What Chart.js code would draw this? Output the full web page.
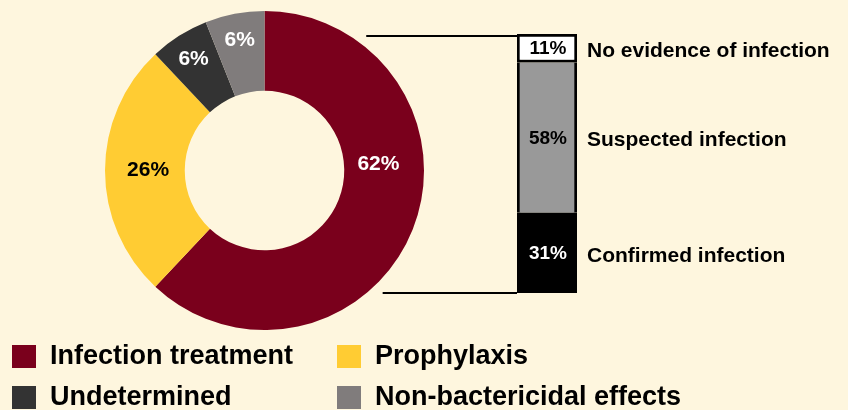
<!DOCTYPE html>
<html>
<head>
<meta charset="utf-8">
<script src="https://cdn.jsdelivr.net/npm/chart.js@4.4.0/dist/chart.umd.min.js"></script>
<style>
    html, body { margin:0; padding:0; background:#fef6de; }
    #wrap { position:relative; width:848px; height:410px; }
    #wrap canvas { position:absolute; left:0; top:0; }
</style>
</head>
<body>
<div id="wrap">
    <canvas id="donut_chart" width="848" height="410"></canvas>
    <canvas id="bar_chart" width="848" height="410"></canvas>
</div>
<script>
// antibiotic use (donut)
let use_labels = ["Infection treatment", "Prophylaxis", "Undetermined", "Non-bactericidal effects"];
let use_values = [62, 26, 6, 6];
let use_colors = ["#7a001c", "#ffcc33", "#333333", "#807c7c"];

// breakdown of infection treatment (stacked bar, bottom to top)
let infection_labels = ["Confirmed infection", "Suspected infection", "No evidence of infection"];
let infection_values = [31, 58, 11];
let infection_colors = ["#000000", "#999999", "#ffffff"];

const FONT = "'Liberation Sans', Arial, sans-serif";

// where inside each slice the % text goes (fraction of angle, fraction of ring width)
let slice_text_pos = [0.39, 0.5, 0.5, 0.5];
let slice_text_rad = [0.43, 0.46, 0.66, 0.66];
let slice_text_color = ["#fff", "#000", "#fff", "#fff"];

let donutLabels = {
    id: "donutLabels",
    afterDraw(chart) {
        let ctx = chart.ctx;
        let meta = chart.getDatasetMeta(0);
        ctx.save();
        ctx.font = "bold 21px " + FONT;
        ctx.textAlign = "center";
        ctx.textBaseline = "middle";
        meta.data.forEach(function (arc, i) {
            let a = arc.startAngle + (arc.endAngle - arc.startAngle) * slice_text_pos[i];
            let r = arc.innerRadius + (arc.outerRadius - arc.innerRadius) * slice_text_rad[i];
            ctx.fillStyle = slice_text_color[i];
            ctx.fillText(use_values[i] + "%", arc.x + Math.cos(a) * r, arc.y + Math.sin(a) * r);
        });

        // legend, 2 columns
        let colX = [12, 337];
        let rowY = [345, 386];
        ctx.textAlign = "left";
        ctx.font = "bold 27px " + FONT;
        for (let i = 0; i < use_labels.length; i++) {
            let bx = colX[i % 2];
            let by = rowY[Math.floor(i / 2)];
            ctx.fillStyle = use_colors[i];
            ctx.fillRect(bx, by, 24, 23);
            ctx.fillStyle = "#000";
            ctx.fillText(use_labels[i], bx + 38, by + 12);
        }
        ctx.restore();
    }
};

let Donut = document.getElementById("donut_chart");
let DonutChart = new Chart(Donut, {
    type: "doughnut",
    data: {
        labels: use_labels,
        datasets: [{
            data: use_values,
            backgroundColor: use_colors,
            borderWidth: 0
        }]
    },
    options: {
        responsive: false,
        animation: false,
        cutout: "50%",
        layout: { padding: { left: 105, top: 11, right: 424, bottom: 80 } },
        plugins: { legend: { display: false }, tooltip: { enabled: false } }
    },
    plugins: [donutLabels]
});

let barLabels = {
    id: "barLabels",
    afterDraw(chart) {
        let ctx = chart.ctx;
        let area = chart.chartArea;
        ctx.save();

        // connector lines from the donut to the bar
        let arc = DonutChart.getDatasetMeta(0).data[0];
        ctx.strokeStyle = "#000";
        ctx.lineWidth = 2;
        [area.top + 2, area.bottom].forEach(function (y) {
            let dy = y - arc.y;
            let dx = Math.sqrt(Math.max(arc.outerRadius * arc.outerRadius - dy * dy, 0));
            ctx.beginPath();
            ctx.moveTo(arc.x + dx + 16, y);
            ctx.lineTo(area.left, y);
            ctx.stroke();
        });

        let textColor = ["#fff", "#000", "#000"];
        ctx.textBaseline = "middle";
        chart.data.datasets.forEach(function (ds, i) {
            let bar = chart.getDatasetMeta(i).data[0];
            let mid = (bar.y + bar.base) / 2;
            ctx.font = "bold 19px " + FONT;
            ctx.textAlign = "center";
            ctx.fillStyle = textColor[i];
            ctx.fillText(infection_values[i] + "%", bar.x + 1, mid + 1);
            ctx.font = "bold 21px " + FONT;
            ctx.textAlign = "left";
            ctx.fillStyle = "#000";
            ctx.fillText(infection_labels[i], area.right + 10, mid + 3);
        });
        ctx.restore();
    }
};

let bar_borders = [3, { left: 3, right: 3, top: 0, bottom: 0 }, 3];

let Bar = document.getElementById("bar_chart");
let BarChart = new Chart(Bar, {
    type: "bar",
    data: {
        labels: ["Infection treatment"],
        datasets: infection_labels.map(function (lab, i) {
            return {
                label: lab,
                data: [infection_values[i]],
                backgroundColor: infection_colors[i],
                borderColor: "#000",
                borderWidth: bar_borders[i],
                borderSkipped: false,
                barPercentage: 1,
                categoryPercentage: 1
            };
        })
    },
    options: {
        responsive: false,
        animation: false,
        layout: { padding: { left: 517, top: 34, right: 271, bottom: 117 } },
        scales: {
            x: { stacked: true, display: false },
            y: { stacked: true, display: false, min: 0, max: 100 }
        },
        plugins: { legend: { display: false }, tooltip: { enabled: false } }
    },
    plugins: [barLabels]
});
</script>
</body>
</html>
